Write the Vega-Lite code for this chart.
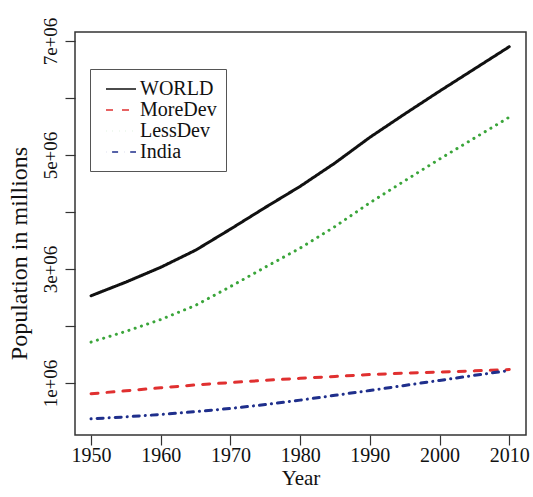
{
  "$schema": "https://vega.github.io/schema/vega-lite/v6.json",
  "width": 451,
  "height": 403,
  "autosize": {"type": "none"},
  "padding": {"left": 75, "top": 32, "right": 7, "bottom": 62},
  "background": "white",
  "config": {
    "font": "Liberation Serif",
    "view": {"stroke": "#333333", "strokeWidth": 1.5},
    "axis": {"grid": false, "domain": false, "tickColor": "#333333", "tickWidth": 1.2, "tickSize": 10, "labelColor": "#111111", "titleColor": "#111111", "labelFont": "Liberation Serif", "titleFont": "Liberation Serif", "titleFontWeight": "normal"}
  },
  "data": {"values": [
    {"year": 1950, "series": "WORLD", "pop": 2530000},
    {"year": 1955, "series": "WORLD", "pop": 2770000},
    {"year": 1960, "series": "WORLD", "pop": 3030000},
    {"year": 1965, "series": "WORLD", "pop": 3330000},
    {"year": 1970, "series": "WORLD", "pop": 3700000},
    {"year": 1975, "series": "WORLD", "pop": 4080000},
    {"year": 1980, "series": "WORLD", "pop": 4450000},
    {"year": 1985, "series": "WORLD", "pop": 4860000},
    {"year": 1990, "series": "WORLD", "pop": 5310000},
    {"year": 1995, "series": "WORLD", "pop": 5720000},
    {"year": 2000, "series": "WORLD", "pop": 6120000},
    {"year": 2005, "series": "WORLD", "pop": 6510000},
    {"year": 2010, "series": "WORLD", "pop": 6900000},
    {"year": 1950, "series": "MoreDev", "pop": 812000},
    {"year": 1955, "series": "MoreDev", "pop": 864000},
    {"year": 1960, "series": "MoreDev", "pop": 916000},
    {"year": 1965, "series": "MoreDev", "pop": 967000},
    {"year": 1970, "series": "MoreDev", "pop": 1008000},
    {"year": 1975, "series": "MoreDev", "pop": 1047000},
    {"year": 1980, "series": "MoreDev", "pop": 1083000},
    {"year": 1985, "series": "MoreDev", "pop": 1115000},
    {"year": 1990, "series": "MoreDev", "pop": 1148000},
    {"year": 1995, "series": "MoreDev", "pop": 1173000},
    {"year": 2000, "series": "MoreDev", "pop": 1191000},
    {"year": 2005, "series": "MoreDev", "pop": 1213000},
    {"year": 2010, "series": "MoreDev", "pop": 1236000},
    {"year": 1950, "series": "LessDev", "pop": 1718000},
    {"year": 1955, "series": "LessDev", "pop": 1906000},
    {"year": 1960, "series": "LessDev", "pop": 2114000},
    {"year": 1965, "series": "LessDev", "pop": 2363000},
    {"year": 1970, "series": "LessDev", "pop": 2692000},
    {"year": 1975, "series": "LessDev", "pop": 3033000},
    {"year": 1980, "series": "LessDev", "pop": 3367000},
    {"year": 1985, "series": "LessDev", "pop": 3745000},
    {"year": 1990, "series": "LessDev", "pop": 4162000},
    {"year": 1995, "series": "LessDev", "pop": 4547000},
    {"year": 2000, "series": "LessDev", "pop": 4929000},
    {"year": 2005, "series": "LessDev", "pop": 5297000},
    {"year": 2010, "series": "LessDev", "pop": 5664000},
    {"year": 1950, "series": "India", "pop": 372000},
    {"year": 1955, "series": "India", "pop": 406000},
    {"year": 1960, "series": "India", "pop": 448000},
    {"year": 1965, "series": "India", "pop": 497000},
    {"year": 1970, "series": "India", "pop": 554000},
    {"year": 1975, "series": "India", "pop": 622000},
    {"year": 1980, "series": "India", "pop": 700000},
    {"year": 1985, "series": "India", "pop": 784000},
    {"year": 1990, "series": "India", "pop": 869000},
    {"year": 1995, "series": "India", "pop": 958000},
    {"year": 2000, "series": "India", "pop": 1046000},
    {"year": 2005, "series": "India", "pop": 1134000},
    {"year": 2010, "series": "India", "pop": 1220000}
  ]},
  "mark": {"type": "line", "strokeWidth": 3, "strokeCap": "round", "strokeJoin": "round"},
  "encoding": {
    "x": {
      "field": "year", "type": "quantitative",
      "scale": {"domain": [1947.7, 2012.4], "nice": false, "zero": false},
      "axis": {"values": [1950, 1960, 1970, 1980, 1990, 2000, 2010], "format": "d", "labelFontSize": 20, "labelPadding": 0, "title": "Year", "titleFontSize": 21, "titlePadding": 2, "labelFlush": false, "labelOverlap": false}
    },
    "y": {
      "field": "pop", "type": "quantitative",
      "scale": {"domain": [88000, 7158000], "nice": false, "zero": false},
      "axis": {"values": [1000000, 2000000, 3000000, 4000000, 5000000, 6000000, 7000000], "labelExpr": "datum.value % 2000000 == 1000000 ? (datum.value / 1000000) + 'e+06' : ''", "labelAngle": -90, "labelAlign": "center", "labelBaseline": "bottom", "labelFontSize": 19, "labelPadding": 5, "labelFlush": false, "labelOverlap": false, "title": "Population in millions", "titleFontSize": 24, "titlePadding": 10, "titleY": 221}
    },
    "color": {
      "field": "series", "type": "nominal",
      "scale": {"domain": ["WORLD", "MoreDev", "LessDev", "India"], "range": ["#111111", "#e03030", "#3aa53a", "#1f2f8c"]},
      "legend": {
        "title": null, "orient": "none", "legendX": 15, "legendY": 37,
        "symbolType": "M-1.5,0H1.5", "symbolSize": 400, "symbolStrokeWidth": 1.4, "symbolOffset": 11,
        "labelFontSize": 20, "labelFont": "Liberation Serif", "labelColor": "#111111", "labelOffset": 8,
        "rowPadding": 0, "padding": 9, "strokeColor": "#555555", "fillColor": "white"
      }
    },
    "strokeDash": {
      "field": "series", "type": "nominal",
      "scale": {"domain": ["WORLD", "MoreDev", "LessDev", "India"], "range": [[1, 0], [7, 9], [0.1, 6.5], [0.1, 6, 6, 6]]}
    }
  }
}
